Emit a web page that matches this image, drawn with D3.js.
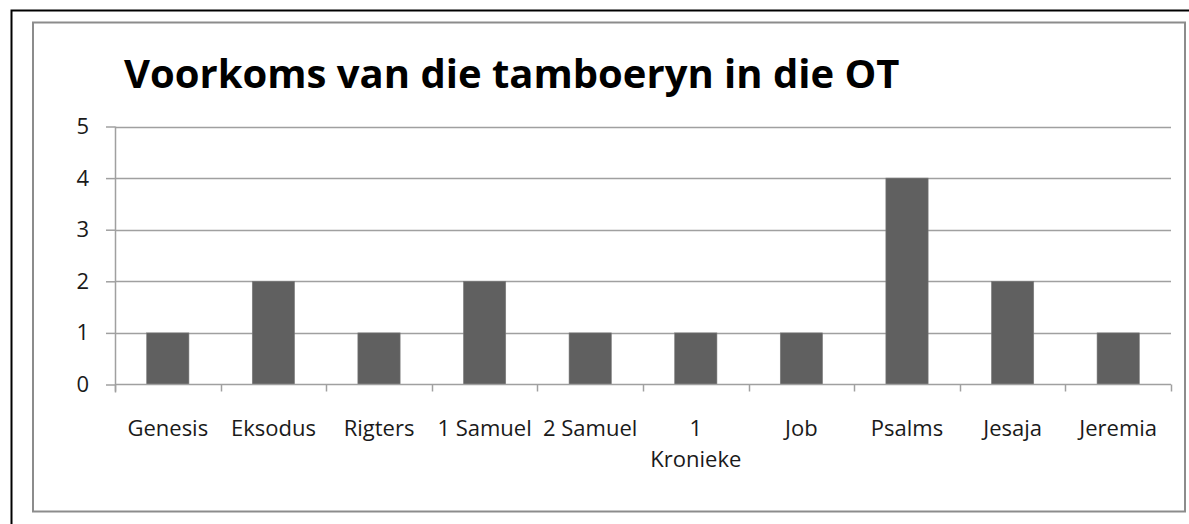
<!DOCTYPE html>
<html>
<head>
<meta charset="utf-8">
<script src="https://cdn.jsdelivr.net/npm/d3@7"></script>
<style>
    body { margin: 0; background: #fff; }
    svg { display: block; font-family: "Open Sans", sans-serif; }
</style>
</head>
<body>
<div id="barPlot"></div>
<script>
var books = ["Genesis", "Eksodus", "Rigters", "1 Samuel", "2 Samuel", "1 Kronieke", "Job", "Psalms", "Jesaja", "Jeremia"];
var counts = [1, 2, 1, 2, 1, 1, 1, 4, 2, 1];
var yTicks = [0, 1, 2, 3, 4, 5];
var title = "Voorkoms van die tamboeryn in die OT";

var width = 1189,
    height = 524,
    plotLeft = 115,
    plotRight = 1171,
    plotTop = 126.5,
    plotBottom = 384.5;

var svg = d3.select("#barPlot").append("svg")
    .attr("width", width)
    .attr("height", height);

// outer black frame (runs off the right and bottom)
svg.append("path")
    .attr("d", "M11.5," + height + "V10.5H" + width)
    .attr("fill", "none")
    .attr("stroke", "#000")
    .attr("stroke-width", 2);

// chart area border
svg.append("rect")
    .attr("x", 33)
    .attr("y", 22.5)
    .attr("width", 1152)
    .attr("height", 489)
    .attr("fill", "none")
    .attr("stroke", "#8c8c8c")
    .attr("stroke-width", 2);

svg.append("text")
    .attr("x", 124)
    .attr("y", 88)
    .style("font-size", "40px")
    .style("font-weight", "bold")
    .attr("fill", "#000")
    .text(title);

var x = d3.scaleBand()
    .domain(books)
    .range([plotLeft, plotRight])
    .paddingInner(0.6)
    .paddingOuter(0.3);

var y = d3.scaleLinear()
    .domain([0, 5])
    .range([plotBottom, plotTop]);

// gridlines
svg.append("g")
    .selectAll("line")
    .data(yTicks.filter(function (d) { return d > 0; }))
    .enter().append("line")
    .attr("x1", plotLeft)
    .attr("x2", plotRight)
    .attr("y1", function (d) { return Math.round(y(d)) + 0.5; })
    .attr("y2", function (d) { return Math.round(y(d)) + 0.5; })
    .attr("stroke", "#a0a0a0")
    .attr("stroke-width", 1.5);

svg.append("g")
    .selectAll("rect")
    .data(counts)
    .enter().append("rect")
    .attr("x", function (d, i) { return x(books[i]); })
    .attr("y", function (d) { return y(d); })
    .attr("width", x.bandwidth())
    .attr("height", function (d) { return y(0) - y(d); })
    .attr("fill", "#606060")
    .attr("stroke", "#7a7a7a")
    .attr("stroke-width", 0.6);

var yAxis = d3.axisLeft(y)
    .tickValues(yTicks)
    .tickSize(9)
    .tickPadding(17)
    .tickFormat(d3.format("d"));

var gy = svg.append("g")
    .attr("transform", "translate(" + plotLeft + ",0)")
    .call(yAxis);

// x axis: ticks sit on the band edges, labels centred under each band
var edges = books.map(function (b) { return x(b) - x.step() * x.paddingInner() / 2; });
edges.push(plotRight);

var gx = svg.append("g")
    .attr("transform", "translate(0," + plotBottom + ")");

gx.append("line")
    .attr("x1", plotLeft)
    .attr("x2", plotRight)
    .attr("stroke", "#a0a0a0")
    .attr("stroke-width", 1.5);

gx.selectAll(".edge")
    .data(edges)
    .enter().append("line")
    .attr("class", "edge")
    .attr("x1", function (d) { return Math.round(d) + 0.5; })
    .attr("x2", function (d) { return Math.round(d) + 0.5; })
    .attr("y1", 0)
    .attr("y2", 7)
    .attr("stroke", "#a0a0a0")
    .attr("stroke-width", 1.5);

var labels = gx.selectAll(".lab")
    .data(books)
    .enter().append("text")
    .attr("class", "lab")
    .attr("text-anchor", "middle")
    .attr("x", function (d) { return x(d) + x.bandwidth() / 2; })
    .attr("y", 51)
    .style("font-size", "22px")
    .attr("fill", "#1a1a1a")
    .text(function (d) { return d; });

// wrap labels wider than one category slot
labels.each(function (d) {
    var t = d3.select(this);
    if (this.getComputedTextLength() <= x.step()) return;
    var words = d.split(" ");
    var cx = t.attr("x");
    t.text(null);
    words.forEach(function (w, i) {
        t.append("tspan")
            .attr("x", cx)
            .attr("dy", i == 0 ? 0 : 31)
            .text(w);
    });
});

gy.select(".domain").attr("stroke", "#a0a0a0").attr("stroke-width", 1.5)
    .attr("d", "M0.5," + plotTop + "V" + (plotBottom + 8));
gy.selectAll(".tick line").attr("stroke", "#a0a0a0").attr("stroke-width", 1.5);
gy.selectAll(".tick text")
    .style("font-size", "22px")
    .style("font-family", "Open Sans, sans-serif")
    .attr("fill", "#1a1a1a");
</script>
</body>
</html>
